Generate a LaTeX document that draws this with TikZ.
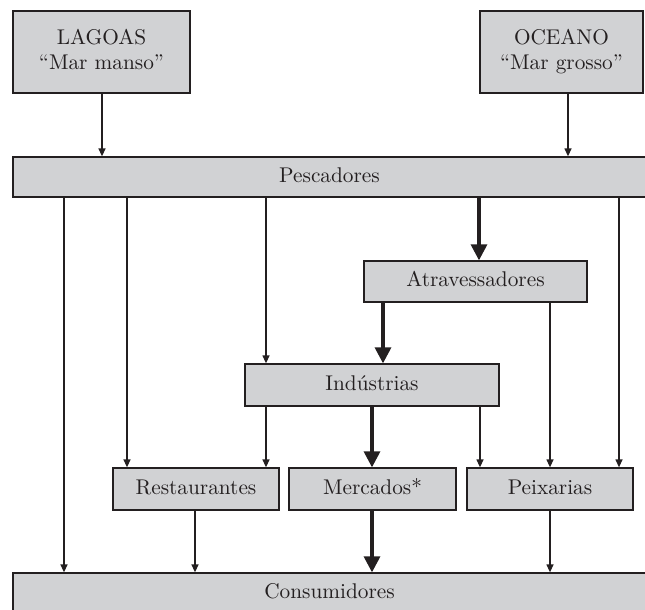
\documentclass[tikz,border=0pt]{standalone}
\usepackage{graphicx}
\usetikzlibrary{arrows.meta}
\definecolor{boxfill}{HTML}{D1D2D4}
\definecolor{ink}{HTML}{231F20}
\newcommand{\boxtxt}[1]{\scalebox{2.13}{\normalsize\begin{tabular}{@{}c@{}}#1\end{tabular}}}
\tikzset{
  box/.style={draw=ink, fill=boxfill, line width=1.3pt, rectangle, inner sep=0pt,
    text=ink},
  thin/.style={draw=ink, line width=1.3pt, -{Triangle[length=8pt,width=7pt]}},
  thick/.style={draw=ink, line width=3.2pt, -{Triangle[length=16pt,width=16pt]}}
}
\begin{document}
\begin{tikzpicture}[x=1pt,y=-1pt]
\useasboundingbox (0,0) rectangle (645,610);
\clip (0,0) rectangle (645,610);
% boxes
\node[box, minimum width=177pt, minimum height=82pt] (lag) at (101.5,52) {\boxtxt{LAGOAS\\``Mar manso''}};
\node[box, minimum width=163pt, minimum height=82pt] (oce) at (561.5,52) {\boxtxt{OCEANO\\``Mar grosso''}};
\node[box, minimum width=633pt, minimum height=40pt] (pes) at (329.5,177) {\boxtxt{Pescadores}};
\node[box, minimum width=223pt, minimum height=41pt] (atr) at (475.5,281.5) {\boxtxt{Atravessadores}};
\node[box, minimum width=254pt, minimum height=42pt] (ind) at (372,385) {\boxtxt{Ind\'ustrias}};
\node[box, minimum width=166pt, minimum height=42pt] (res) at (196,489) {\boxtxt{Restaurantes}};
\node[box, minimum width=167pt, minimum height=42pt] (mer) at (372.5,489) {\boxtxt{Mercados*}};
\node[box, minimum width=166pt, minimum height=42pt] (pei) at (550,489) {\boxtxt{Peixarias}};
\node[box, minimum width=633pt, minimum height=40pt] (con) at (329.5,593) {\boxtxt{Consumidores}};
% connectors
\draw[thin] (lag.south -| 102,0) -- (pes.north -| 102,0);
\draw[thin] (oce.south -| 568,0) -- (pes.north -| 568,0);
\draw[thin] (pes.south -| 64,0) -- (con.north -| 64,0);
\draw[thin] (pes.south -| 127,0) -- (res.north -| 127,0);
\draw[thin] (pes.south -| 266,0) -- (ind.north -| 266,0);
\draw[thick] (pes.south -| 479,0) -- (atr.north -| 479,0);
\draw[thin] (pes.south -| 619,0) -- (pei.north -| 619,0);
\draw[thick] (atr.south -| 383,0) -- (ind.north -| 383,0);
\draw[thin] (atr.south -| 550,0) -- (pei.north -| 550,0);
\draw[thin] (ind.south -| 266,0) -- (res.north -| 266,0);
\draw[thick] (ind.south -| 372,0) -- (mer.north -| 372,0);
\draw[thin] (ind.south -| 480,0) -- (pei.north -| 480,0);
\draw[thin] (res.south -| 195,0) -- (con.north -| 195,0);
\draw[thick] (mer.south -| 372,0) -- (con.north -| 372,0);
\draw[thin] (pei.south -| 550,0) -- (con.north -| 550,0);
\end{tikzpicture}
\end{document}
